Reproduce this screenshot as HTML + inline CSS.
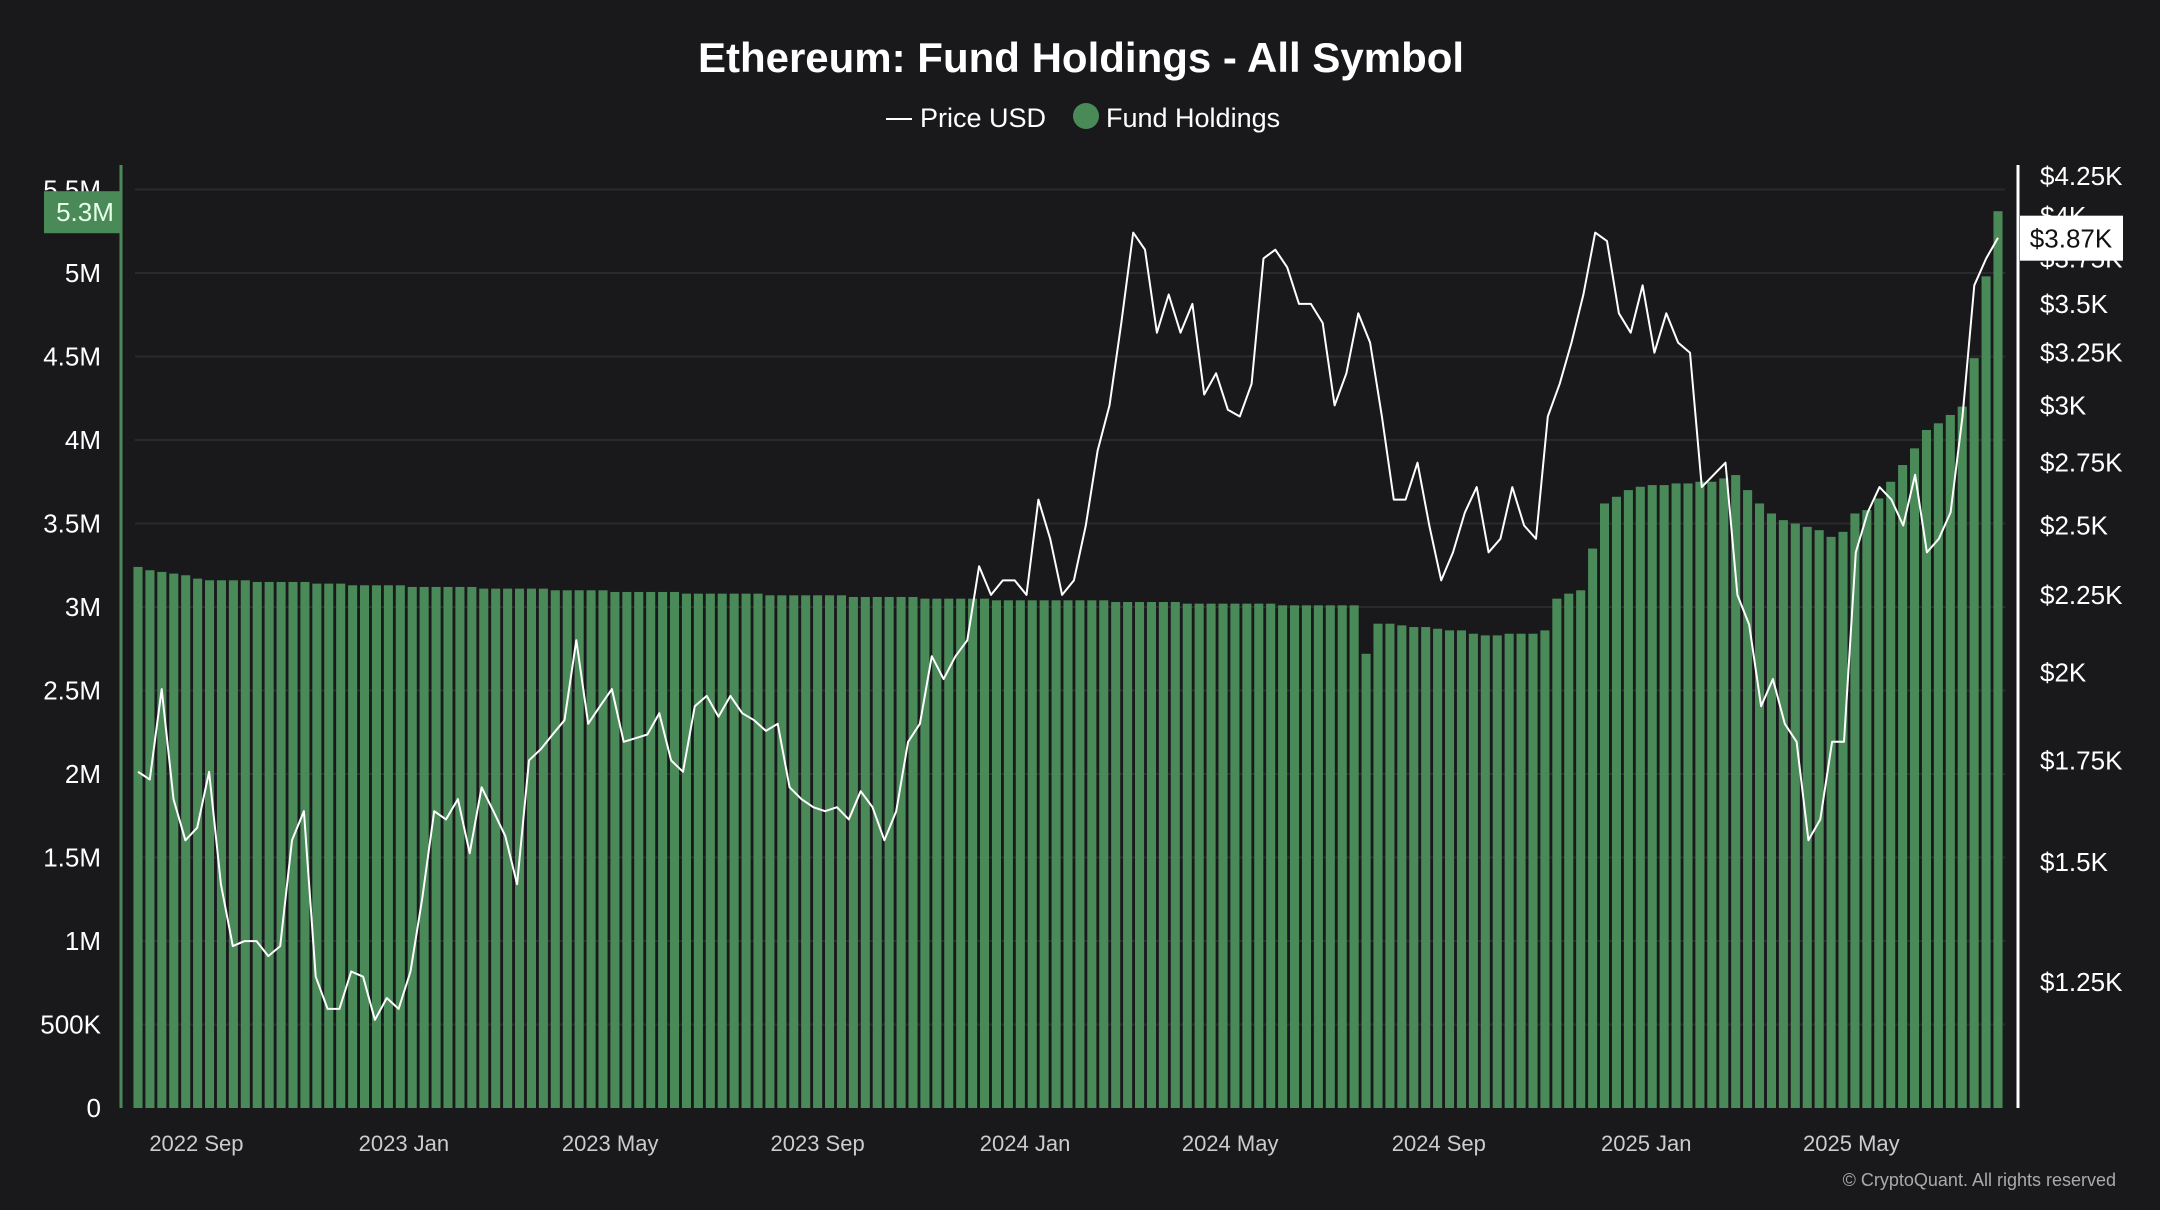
<!DOCTYPE html>
<html><head><meta charset="utf-8"><style>
html,body{margin:0;padding:0;background:#19191c;}
svg{display:block;font-family:"Liberation Sans",sans-serif;}
</style></head><body>
<svg id="chart" width="2160" height="1210" viewBox="0 0 2160 1210" xmlns="http://www.w3.org/2000/svg">
<rect width="2160" height="1210" fill="#19191c"/>
<text x="1081" y="72" text-anchor="middle" fill="#fff" font-size="42" font-weight="bold">Ethereum: Fund Holdings - All Symbol</text>
<g>
<line x1="886" y1="119" x2="912" y2="119" stroke="#fff" stroke-width="2"/>
<text x="920" y="127" fill="#fff" font-size="27">Price USD</text>
<circle cx="1086" cy="116" r="13" fill="#4a8a59"/>
<text x="1106" y="127" fill="#fff" font-size="27">Fund Holdings</text>
</g>
<g id="grid"></g><g id="bars"></g><g id="line"></g><g id="axes"></g>
<text x="2116" y="1186" text-anchor="end" fill="#aaa" font-size="18">© CryptoQuant. All rights reserved</text>
</svg>
<script>
const holdings=[3.24,3.22,3.21,3.20,3.19,
3.17,3.16,3.16,3.16,3.16,3.15,3.15,3.15,3.15,3.15,3.14,3.14,3.14,
3.13,3.13,3.13,3.13,3.13,3.12,3.12,3.12,3.12,3.12,3.12,3.11,3.11,3.11,3.11,3.11,3.11,3.10,3.10,3.10,
3.10,3.10,3.09,3.09,3.09,3.09,3.09,3.09,3.08,3.08,3.08,3.08,3.08,3.08,3.08,3.07,3.07,3.07,3.07,3.07,3.07,3.07,3.06,3.06,3.06,3.06,
3.06,3.06,3.05,3.05,3.05,3.05,3.05,3.05,3.04,3.04,3.04,3.04,3.04,3.04,3.04,3.04,3.04,
3.04,3.03,3.03,3.03,3.03,3.03,3.03,3.02,3.02,3.02,3.02,3.02,3.02,3.02,3.02,3.01,3.01,3.01,3.01,3.01,3.01,3.01,
2.72,
2.90,2.90,2.89,2.88,2.88,2.87,2.86,2.86,
2.84,2.83,2.83,2.84,2.84,2.84,2.86,
3.05,3.08,3.10,
3.35,3.62,3.66,3.70,3.72,
3.73,3.73,3.74,3.74,3.75,3.75,3.77,3.79,
3.70,3.62,3.56,3.52,3.50,3.48,3.46,3.42,3.45,
3.56,3.58,3.65,3.75,3.85,3.95,4.06,
4.10,4.15,4.20,4.49,4.98,5.37];
const price=[1.72,1.70,1.95,1.65,1.55,1.58,1.72,1.45,1.32,1.33,1.33,1.30,1.32,1.55,1.62,1.26,1.20,1.20,1.27,1.26,1.18,1.22,1.20,1.27,1.42,1.62,1.60,1.65,1.52,1.68,1.62,1.56,1.45,1.75,1.78,1.82,1.86,2.10,1.85,1.90,1.95,1.80,1.81,1.82,1.88,1.75,1.72,1.90,1.93,1.87,1.93,1.88,1.86,1.83,1.85,1.68,1.65,1.63,1.62,1.63,1.60,1.67,1.63,1.55,1.62,1.80,1.85,2.05,1.98,2.05,2.10,2.35,2.25,2.30,2.30,2.25,2.60,2.45,2.25,2.30,2.50,2.80,3.00,3.40,3.90,3.80,3.35,3.55,3.35,3.50,3.05,3.15,2.98,2.95,3.10,3.75,3.80,3.70,3.50,3.50,3.40,3.00,3.15,3.45,3.30,2.95,2.60,2.60,2.75,2.50,2.30,2.40,2.55,2.65,2.40,2.45,2.65,2.50,2.45,2.95,3.10,3.30,3.55,3.90,3.85,3.45,3.35,3.60,3.25,3.45,3.30,3.25,2.65,2.70,2.75,2.25,2.15,1.90,1.98,1.85,1.80,1.55,1.60,1.80,1.80,2.40,2.55,2.65,2.60,2.50,2.70,2.40,2.45,2.55,2.95,3.60,3.75,3.87];
const leftTicks=[0,0.5,1,1.5,2,2.5,3,3.5,4,4.5,5,5.5];
const leftLabels=["0","500K","1M","1.5M","2M","2.5M","3M","3.5M","4M","4.5M","5M","5.5M"];
const rightTicks=[1.25,1.5,1.75,2,2.25,2.5,2.75,3,3.25,3.5,3.75,4,4.25];
const rightLabels=["$1.25K","$1.5K","$1.75K","$2K","$2.25K","$2.5K","$2.75K","$3K","$3.25K","$3.5K","$3.75K","$4K","$4.25K"];
const xLabels=["2022 Sep","2023 Jan","2023 May","2023 Sep","2024 Jan","2024 May","2024 Sep","2025 Jan","2025 May"];
const xLabelWeeks=[4.9,22.3,39.6,57.0,74.4,91.6,109.1,126.5,143.7];
const NS="http://www.w3.org/2000/svg";
const X0=138,X1=1998;
const xs=i=>X0+i*(X1-X0)/(holdings.length-1);
const yL=v=>1108-v*167;
const yR=p=>176+Math.log(4.25/p)*658.6;
function mk(tag,attrs,parent,text){const e=document.createElementNS(NS,tag);for(const k in attrs)e.setAttribute(k,attrs[k]);if(text!==undefined)e.textContent=text;document.getElementById(parent).appendChild(e);return e;}
leftTicks.forEach((t,i)=>{
 if(t>0){const g=mk('line',{x1:135,x2:2005,y1:yL(t),y2:yL(t),stroke:'#2a2a2e','stroke-width':2},'grid');
 
 }
 const l=mk('text',{x:101,y:yL(t)+9,'text-anchor':'end',fill:'#fff','font-size':26},'axes',leftLabels[i]);
 
 
});
rightTicks.forEach((t,i)=>{
 const l=mk('text',{x:2040,y:yR(t)+9,fill:'#fff','font-size':26},'axes',rightLabels[i]);
 
 
});
xLabels.forEach((s,i)=>{
 const l=mk('text',{x:xs(xLabelWeeks[i]),y:1151,'text-anchor':'middle',fill:'#ccc','font-size':22},'axes',s);
 
 
});
const pitch=(X1-X0)/(holdings.length-1);
holdings.forEach((v,i)=>{
 const b=mk('rect',{x:xs(i)-pitch*0.38,y:yL(v),width:pitch*0.76,height:1108-yL(v),fill:'#4a8a59'},'bars');
 
 
});
const pts=price.map((p,i)=>xs(i*(holdings.length-1)/(price.length-1)).toFixed(1)+','+yR(p).toFixed(1)).join(' ');
const pl=mk('polyline',{points:pts,fill:'none',stroke:'#fff','stroke-width':2,'stroke-linejoin':'round'},'line');


const la=mk('line',{x1:121,x2:121,y1:165,y2:1108,stroke:'#4a8a59','stroke-width':3},'axes');


const ra=mk('line',{x1:2018,x2:2018,y1:165,y2:1108,stroke:'#fff','stroke-width':3},'axes');


const lastH=holdings[holdings.length-1],lastP=price[price.length-1];
const bg1=mk('rect',{x:44,y:yL(lastH)-20,width:77,height:42,fill:'#4a8a59'},'axes');


const t1=mk('text',{x:85,y:yL(lastH)+10,'text-anchor':'middle',fill:'#e8ffe8','font-size':26},'axes',(Math.floor(lastH*10)/10).toFixed(1)+'M');


const bg2=mk('rect',{x:2020,y:yR(lastP)-22,width:103,height:45,fill:'#fff'},'axes');


const t2=mk('text',{x:2071,y:yR(lastP)+10,'text-anchor':'middle',fill:'#111','font-size':26},'axes','$'+lastP.toFixed(2)+'K');


</script>
</body></html>
